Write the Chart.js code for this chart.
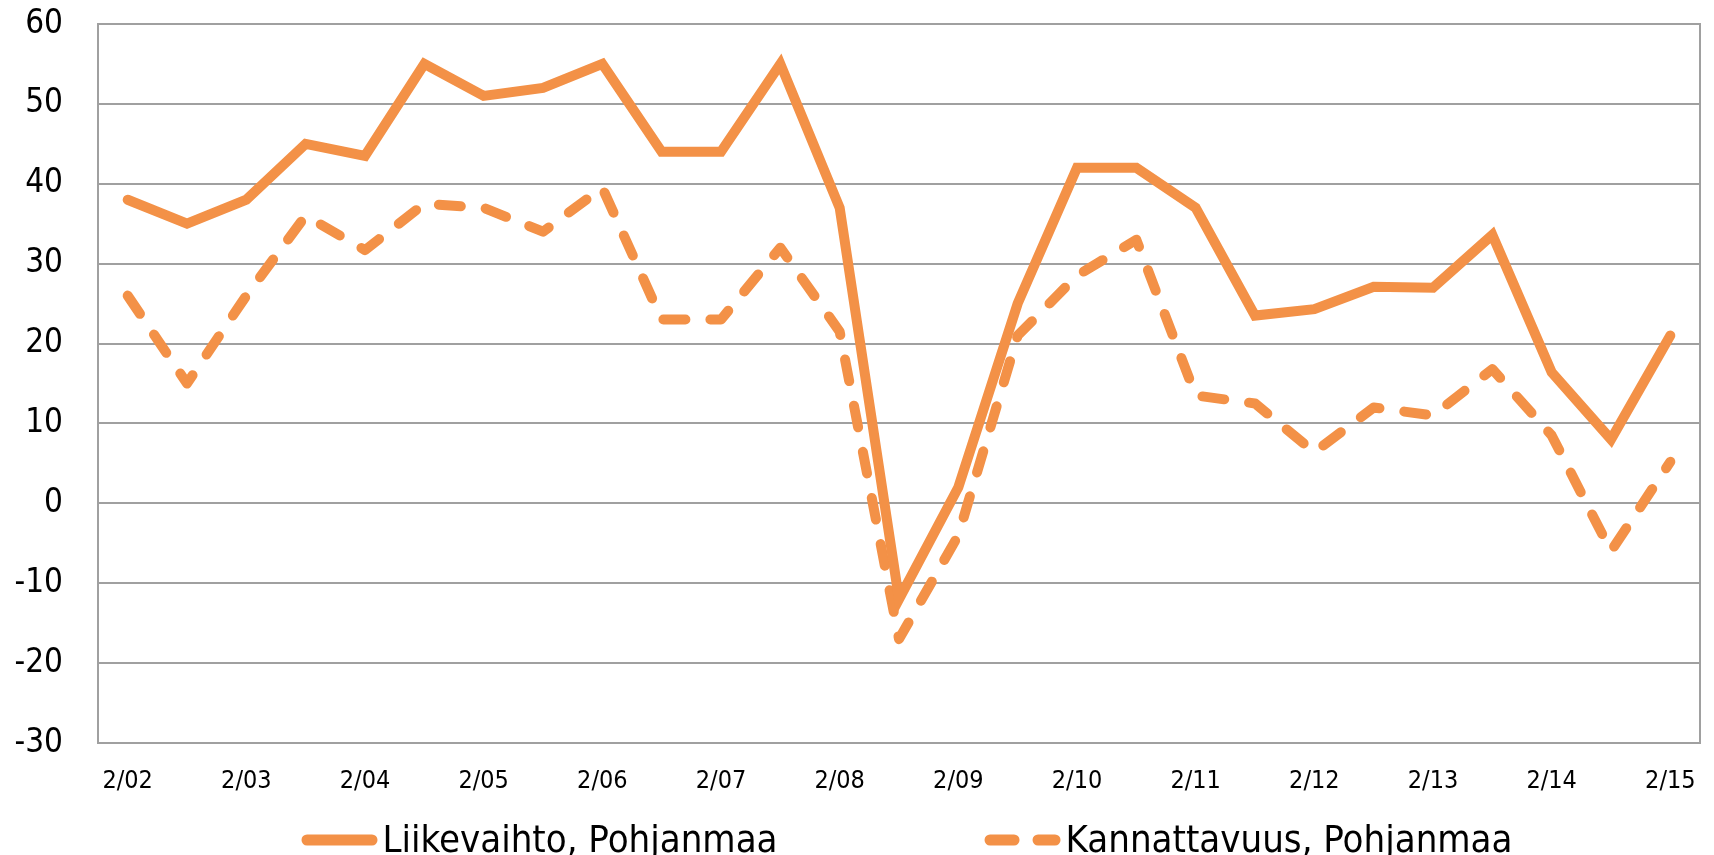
<!DOCTYPE html>
<html>
<head>
<meta charset="utf-8">
<title>Liikevaihto ja kannattavuus, Pohjanmaa</title>
<script src="https://cdn.jsdelivr.net/npm/chart.js@4.4.1/dist/chart.umd.min.js"></script>
<style>
  html, body { margin: 0; padding: 0; background: #fff; }
  canvas { display: block; }
</style>
</head>
<body>
<canvas id="chart" width="1714" height="855"></canvas>
<script>
var tickLabels = ["2/02", "2/03", "2/04", "2/05", "2/06", "2/07", "2/08",
                  "2/09", "2/10", "2/11", "2/12", "2/13", "2/14", "2/15"];

var seriesNames = ["Liikevaihto, Pohjanmaa", "Kannattavuus, Pohjanmaa"];

// saldoluvut, havainto puolen vuoden välein (2/02, 8/02, 2/03, ...)
var liikevaihto = [38, 35, 38, 45, 43.5, 55, 51, 52, 55, 44, 44, 55, 37, -12,
                   2, 25, 42, 42, 37, 23.5, 24.3, 27.1, 27, 33.6, 16.4, 8, 21];
var kannattavuus = [26, 15, 26, 36, 31.7, 37.5, 37, 34, 39.5, 23, 23, 32, 21.5, -17,
                    -4, 21, 28.5, 33, 13.5, 12.5, 6.4, 12, 11, 16.8, 8.5, -6, 5.2];

var yMin = -30, yMax = 60, yStep = 10;

var ORANGE = "#F39147";
var GRID = "#a0a0a0";
var FONT = "'DejaVu Sans Condensed', 'DejaVu Sans', sans-serif";

// joka toinen kategoria jää nimettömäksi (elokuun kyselyt)
var categories = [];
tickLabels.forEach(function (t, i) {
  categories.push(t);
  if (i < tickLabels.length - 1) categories.push("");
});

// selite piirretään itse, jotta viivanäytteet ja välit saadaan kuvan mukaisiksi
var lineLegend = {
  id: "lineLegend",
  afterDraw: function (chart) {
    var ctx = chart.ctx;
    var area = chart.chartArea;
    var sample = 76, gapText = 5, gapItem = 207, lw = 11;
    ctx.save();
    ctx.font = "38px " + FONT;
    var widths = chart.data.datasets.map(function (ds) {
      return ctx.measureText(ds.label).width;
    });
    var total = widths.reduce(function (a, w) { return a + sample + gapText + w; }, 0) +
                gapItem * (widths.length - 1);
    var x = (area.left + area.right) / 2 - total / 2 + 8;
    var y = 840;
    chart.data.datasets.forEach(function (ds, i) {
      ctx.strokeStyle = ds.borderColor;
      ctx.lineWidth = lw;
      ctx.lineCap = "round";
      ctx.setLineDash(ds.borderDash ? [24, 24] : []);
      ctx.beginPath();
      ctx.moveTo(x + lw / 2, y);
      ctx.lineTo(x + sample - lw / 2, y);
      ctx.stroke();
      ctx.setLineDash([]);
      ctx.fillStyle = "#000";
      ctx.textAlign = "left";
      ctx.textBaseline = "alphabetic";
      ctx.fillText(ds.label, x + sample + gapText, 852);
      x += sample + gapText + widths[i] + gapItem;
    });
    ctx.restore();
  }
};

var ctx = document.getElementById("chart").getContext("2d");

var myChart = new Chart(ctx, {
  type: "line",
  data: {
    labels: categories,
    datasets: [
      {
        label: seriesNames[0],
        data: liikevaihto,
        borderColor: ORANGE,
        borderWidth: 10,
        borderCapStyle: "round",
        borderJoinStyle: "miter",
        pointRadius: 0,
        tension: 0,
        fill: false
      },
      {
        label: seriesNames[1],
        data: kannattavuus,
        borderColor: ORANGE,
        borderWidth: 10,
        borderDash: [22, 25],
        borderCapStyle: "round",
        borderJoinStyle: "round",
        pointRadius: 0,
        tension: 0,
        fill: false
      }
    ]
  },
  options: {
    responsive: false,
    animation: false,
    layout: { padding: { top: 24, right: 14, bottom: 62, left: 0 } },
    plugins: {
      legend: { display: false },
      tooltip: { enabled: false }
    },
    scales: {
      x: {
        offset: true,
        grid: { display: true, drawOnChartArea: false, drawTicks: false },
        border: { display: true, color: GRID, width: 2 },
        ticks: {
          autoSkip: false,
          maxRotation: 0,
          padding: 23,
          color: "#000",
          font: { family: FONT, size: 25 }
        },
        afterFit: function (scale) {
          scale.height = 50;
          scale.paddingLeft = 0;
          scale.paddingRight = 0;
        }
      },
      y: {
        min: yMin,
        max: yMax,
        ticks: {
          stepSize: yStep,
          padding: 35,
          color: "#000",
          font: { family: FONT, size: 33 }
        },
        grid: { color: GRID, lineWidth: 2, drawTicks: false },
        border: { display: true, color: GRID, width: 2 },
        afterFit: function (scale) {
          scale.width = 98;
          // tick-padding ei saa kasvattaa yläreunaa
          scale.paddingTop = 0;
          scale.paddingBottom = 0;
        }
      },
      y2: {
        position: "right",
        display: true,
        ticks: { display: false },
        grid: { display: true, drawOnChartArea: false, drawTicks: false },
        border: { display: true, color: GRID, width: 2 },
        afterFit: function (scale) { scale.width = 0; }
      }
    }
  },
  plugins: [lineLegend]
});
</script>
</body>
</html>
